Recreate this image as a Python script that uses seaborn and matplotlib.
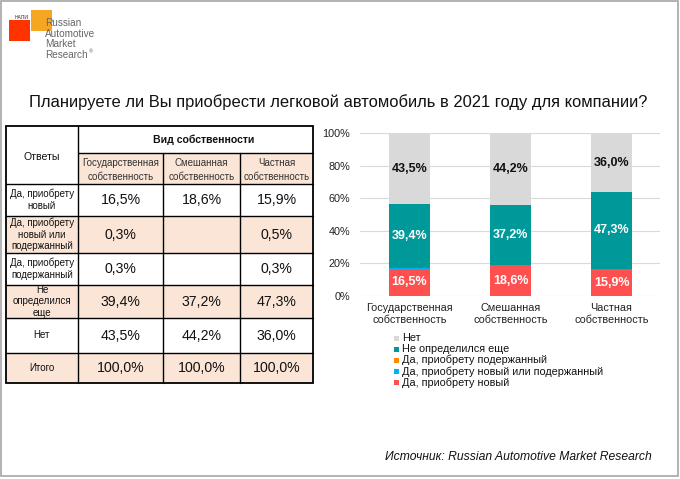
import matplotlib
matplotlib.use("Agg")
import matplotlib.pyplot as plt
from matplotlib.patches import Rectangle
import seaborn as sns
import pandas as pd
import numpy as np

sns.set_theme(style="white")
plt.rcParams['font.family'] = ['Liberation Sans', 'DejaVu Sans']

# ---------------- data ----------------
categories = ["Государственная\nсобственность", "Смешанная\nсобственность", "Частная\nсобственность"]
table_cols = ["Государственная\nсобственность", "Смешанная\nсобственность", "Частная\nсобственность"]
series_names = ["Да, приобрету новый", "Да, приобрету новый или подержанный",
                "Да, приобрету подержанный", "Не определился еще", "Нет"]
table_rows = ["Да, приобрету\nновый", "Да, приобрету\nновый или\nподержанный",
              "Да, приобрету\nподержанный", "Не\nопределился\nеще", "Нет", "Итого"]
v_new = [16.5, 18.6, 15.9]
v_new_or_used = [0.3, 0.0, 0.5]
v_used = [0.3, 0.0, 0.3]
v_undecided = [39.4, 37.2, 47.3]
v_no = [43.5, 44.2, 36.0]
v_total = [100.0, 100.0, 100.0]
yticks = [0, 20, 40, 60, 80, 100]

colors = ["#FF5050", "#00B0F0", "#FF8C00", "#009999", "#D9D9D9"]
label_colors = ["white", None, None, "white", "#111111"]

series = [v_new, v_new_or_used, v_used, v_undecided, v_no]

W, H = 680, 479
fig = plt.figure(figsize=(W / 100, H / 100), dpi=100)

# background / overlay axes in pixel coords
bg = fig.add_axes([0, 0, 1, 1])
bg.set_xlim(0, W)
bg.set_ylim(H, 0)
bg.axis("off")
bg.add_patch(Rectangle((1, 1), W - 3, H - 4, fill=False, ec="#A6A6A6", lw=1.2))

# logo
bg.add_patch(Rectangle((31, 10), 21, 21, color="#F5A623", ec="none"))
bg.add_patch(Rectangle((9, 20), 21, 21, color="#FF3300", ec="none"))
bg.text(15, 17, "НАПИ", fontsize=3.6, color="#333333", va="center", ha="left")
last = None
for i, t in enumerate(["Russian", "Automotive", "Market", "Research"]):
    last = bg.text(45, 23 + i * 10.7, t, fontsize=7.2, color="#666666", va="center", ha="left")
bg.annotate("®", xy=(1, 0.85), xycoords=last, xytext=(1, 0), textcoords="offset points",
            fontsize=4, color="#666666", va="center", ha="left")

# title
bg.text(338, 102, "Планируете ли Вы приобрести легковой автомобиль в 2021 году для компании?",
        fontsize=11.9, ha="center", va="center", color="#111111")

# ---------------- table ----------------
peach = "#FBE5D6"
xs = [6, 78, 163, 240, 313]
ys = [126, 153, 184, 216, 253, 285, 318, 353, 383]
fs = 7.0
bg.add_patch(Rectangle((xs[1], ys[1]), xs[4] - xs[1], ys[2] - ys[1], fc=peach, ec="none"))
row_bounds = [(ys[2], ys[3]), (ys[3], ys[4]), (ys[4], ys[5]), (ys[5], ys[6]), (ys[6], ys[7]), (ys[7], ys[8])]
for r, (y0, y1) in enumerate(row_bounds):
    if r % 2 == 1:
        bg.add_patch(Rectangle((xs[0], y0), xs[4] - xs[0], y1 - y0, fc=peach, ec="none"))
lw = 1.0
bg.add_patch(Rectangle((xs[0], ys[0]), xs[4] - xs[0], ys[8] - ys[0], fill=False, ec="black", lw=1.3))
bg.plot([xs[1], xs[1]], [ys[0], ys[8]], color="black", lw=lw)
for x in xs[2:4]:
    bg.plot([x, x], [ys[1], ys[8]], color="black", lw=lw)
bg.plot([xs[1], xs[4]], [ys[1], ys[1]], color="black", lw=lw)
for y in ys[2:8]:
    bg.plot([xs[0], xs[4]], [y, y], color="black", lw=lw)

bg.text(204, (ys[0] + ys[1]) / 2, "Вид собственности", fontsize=7.6,
        fontweight="bold", ha="center", va="center", color="#111111")
bg.text((xs[0] + xs[1]) / 2, 157, "Ответы", fontsize=7.6,
        ha="center", va="center", color="#111111")
for j, c in enumerate(table_cols):
    bg.text((xs[j + 1] + xs[j + 2]) / 2, (ys[1] + ys[2]) / 2 + 1, c, fontsize=7.0,
            ha="center", va="center", color="#333333", linespacing=1.5)
table_vals = [v_new, v_new_or_used, v_used, v_undecided, v_no, v_total]
for r, (lab, vals) in enumerate(zip(table_rows, table_vals)):
    y0, y1 = row_bounds[r]
    yc = (y0 + y1) / 2
    bg.text((xs[0] + xs[1]) / 2, yc, lab, fontsize=fs, ha="center", va="center",
            color="#111111", linespacing=1.22)
    for j, v in enumerate(vals):
        if v > 0:
            bg.text((xs[j + 1] + xs[j + 2]) / 2, yc, f"{v:.1f}%".replace(".", ","),
                    fontsize=10.2, ha="center", va="center", color="#111111")

# ---------------- chart ----------------
left, right, top, bottom = 360, 660, 133.3, 295.7
ax = fig.add_axes([left / W, (H - bottom) / H, (right - left) / W, (bottom - top) / H])
cum = np.zeros(len(categories))
cums = []
for vals in series:
    cum = cum + np.array(vals)
    cums.append(cum.copy())
# draw from top layer down so lower layers overlay
for k in range(len(series) - 1, -1, -1):
    tmp = pd.DataFrame({"cat": categories, "val": cums[k]})
    sns.barplot(data=tmp, x="cat", y="val", color=colors[k], width=0.405,
                saturation=1, ax=ax, zorder=2, linewidth=0, edgecolor="none")
for k, vals in enumerate(series):
    if label_colors[k] is None:
        continue
    base = cums[k] - np.array(vals)
    for i, v in enumerate(vals):
        if v > 5:
            ax.text(i, base[i] + v / 2, f"{v:.1f}%".replace(".", ","), ha="center",
                    va="center", fontsize=9.0, fontweight="bold", color=label_colors[k], zorder=5)
ax.set_xlim(-0.49, 2.48)
ax.set_ylim(0, 100)
ax.set_yticks(yticks)
ax.set_yticklabels([f"{t}%" for t in yticks], fontsize=7.8, color="#222222")
ax.tick_params(axis="x", labelsize=7.8, colors="#222222", length=0, pad=5)
ax.tick_params(axis="y", length=0, pad=7)
for lab in ax.get_xticklabels():
    lab.set_linespacing(1.35)
ax.set_xlabel("")
ax.set_ylabel("")
ax.yaxis.grid(True, color="#D9D9D9", lw=0.8, zorder=0)
ax.set_axisbelow(True)
for s in ax.spines.values():
    s.set_visible(False)
ax.set_facecolor("none")

# legend (top to bottom: Нет ... Да, приобрету новый)
leg_y = [338, 349, 360, 371.5, 382.5]
for idx, k in enumerate(range(len(series) - 1, -1, -1)):
    y = leg_y[idx]
    bg.add_patch(Rectangle((394, y - 2.5), 5, 5, color=colors[k], ec="none"))
    bg.text(402, y, series_names[k], fontsize=7.8, ha="left", va="center", color="#111111")

# source
bg.text(652, 457, "Источник: Russian Automotive Market Research", fontsize=8.7,
        style="italic", ha="right", va="center", color="#111111")

fig.savefig("out.png", dpi=100)
